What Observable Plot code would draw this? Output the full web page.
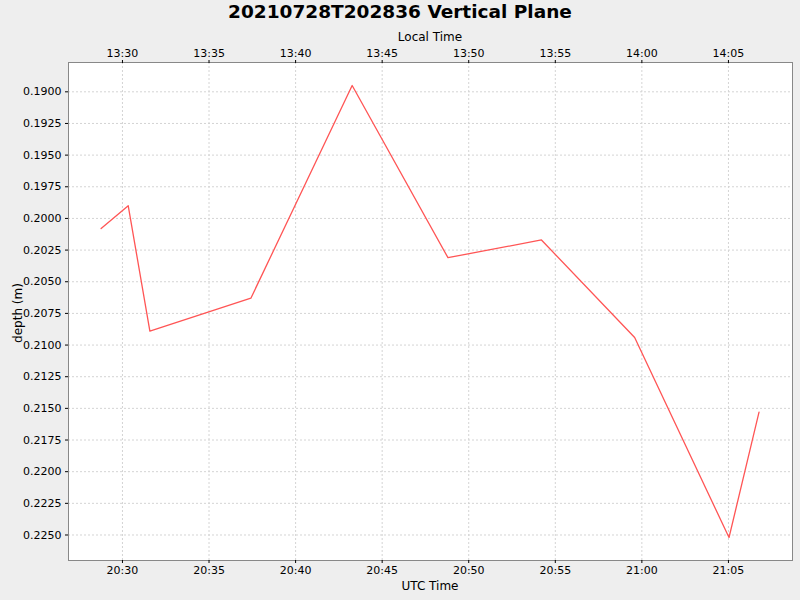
<!DOCTYPE html>
<html>
<head>
<meta charset="utf-8">
<script src="https://cdn.jsdelivr.net/npm/d3@7"></script>
<script src="https://cdn.jsdelivr.net/npm/@observablehq/plot@0.6"></script>
<style>
  html, body { margin: 0; padding: 0; background: #eeeeee; }
  #wrap { position: relative; width: 800px; height: 600px; font-family: "DejaVu Sans", sans-serif; color: #000; }
  #title { position: absolute; left: 0; top: 1px; width: 800px; text-align: center; font-size: 18.5px; font-weight: bold; line-height: 22px; }
  .alabel { position: absolute; font-size: 12px; line-height: 14px; white-space: nowrap; }
  #xlabel { left: 330px; width: 200px; text-align: center; top: 579px; }
  #x2label { left: 330px; width: 200px; text-align: center; top: 30px; }
  #ylabel { left: 18px; top: 313px; transform: translate(-50%, -50%) rotate(-90deg); }
  svg { display: block; }
</style>
</head>
<body>
<div id="wrap">
  <div id="chart"></div>
  <div id="title">20210728T202836 Vertical Plane</div>
  <div id="x2label" class="alabel">Local Time</div>
  <div id="xlabel" class="alabel">UTC Time</div>
  <div id="ylabel" class="alabel">depth (m)</div>
</div>
<script>
const day = "2021-07-28";
const utcTimes = ["20:28:46", "20:30:20", "20:31:35", "20:37:25", "20:43:16", "20:48:48", "20:54:12", "20:59:35", "21:05:02", "21:06:46"];
const depths = [0.2008, 0.1990, 0.2089, 0.2063, 0.1895, 0.2031, 0.2017, 0.2094, 0.2252, 0.2153];
const tickTimes = ["20:30", "20:35", "20:40", "20:45", "20:50", "20:55", "21:00", "21:05"];
const depthTicks = [0.1900, 0.1925, 0.1950, 0.1975, 0.2000, 0.2025, 0.2050, 0.2075, 0.2100, 0.2125, 0.2150, 0.2175, 0.2200, 0.2225, 0.2250];
const xDomain = ["20:26:53", "21:08:42"];
const yDomain = [0.187685, 0.227015];
const localOffsetHours = -7;

const toDate = s => new Date(`${day}T${s.length === 5 ? s + ":00" : s}Z`);
const data = utcTimes.map((t, i) => ({time: toDate(t), depth: depths[i]}));
const ticks = tickTimes.map(toDate);
const fmt = d3.utcFormat("%H:%M");
const localFmt = d => fmt(new Date(+d + localOffsetHours * 3600e3));

const chart = Plot.plot({
  width: 800,
  height: 600,
  marginLeft: 68,
  marginRight: 8,
  marginTop: 62,
  marginBottom: 40,
  style: {background: "#eeeeee", fontFamily: "DejaVu Sans, sans-serif", fontSize: "11px", color: "#000"},
  x: {type: "utc", domain: xDomain.map(toDate)},
  y: {domain: yDomain, reverse: true},
  marks: [
    Plot.frame({fill: "white", stroke: null}),
    Plot.gridX(ticks, {stroke: "#d4d4d4", strokeOpacity: 1, strokeDasharray: "2,2"}),
    Plot.gridY(depthTicks, {stroke: "#d4d4d4", strokeOpacity: 1, strokeDasharray: "2,2"}),
    Plot.frame({stroke: "#888888"}),
    Plot.axisX(ticks, {anchor: "bottom", tickFormat: fmt, tickSize: 3, tickPadding: 3, label: null, fontSize: 11}),
    Plot.axisX(ticks, {anchor: "top", tickFormat: localFmt, tickSize: 3, tickPadding: 3, label: null, fontSize: 11}),
    Plot.axisY(depthTicks, {anchor: "left", tickFormat: d3.format(".4f"), tickSize: 3, tickPadding: 4, label: null, fontSize: 11}),
    Plot.line(data, {x: "time", y: "depth", stroke: "#ff5555", strokeWidth: 1.3})
  ]
});
document.getElementById("chart").appendChild(chart);
</script>
</body>
</html>
